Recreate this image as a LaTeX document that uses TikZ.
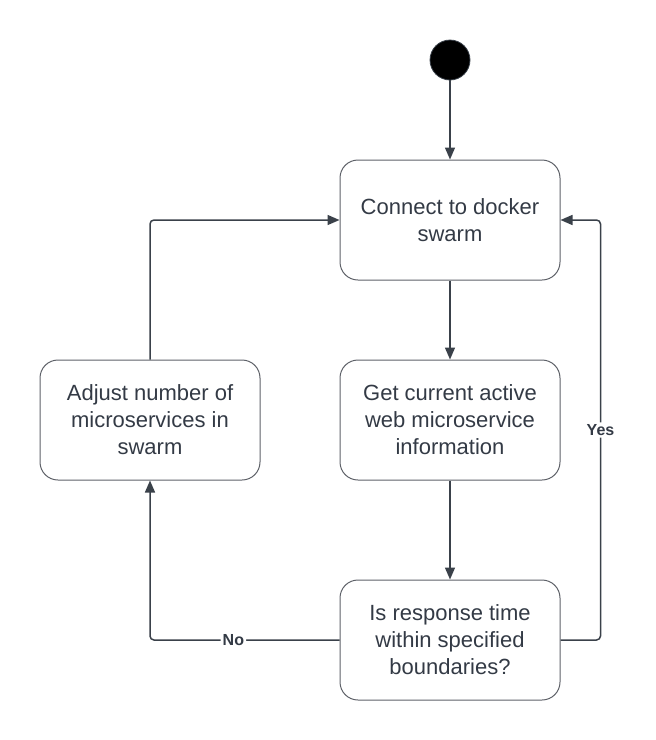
\documentclass[tikz,border=0pt]{standalone}
\usepackage{fontspec}
\setmainfont{Liberation Sans}
\usetikzlibrary{arrows.meta}
\definecolor{linegray}{HTML}{3A414A}
\definecolor{boxgray}{HTML}{5E6168}
\definecolor{textgray}{HTML}{333A45}
\tikzset{
	state/.style={draw=boxgray, line width=0.5pt, rounded corners=9pt, minimum width=110pt, minimum height=60pt, align=center, text=textgray, font=\fontsize{11}{13.5}\selectfont},
	flow/.style={draw=linegray, line width=0.75pt, -{Triangle[length=6pt, width=5pt]}},
	guard/.style={fill=white, inner sep=1pt, text=textgray, font=\fontsize{8}{9}\selectfont\bfseries}
}
\begin{document}
\begin{tikzpicture}[x=0.5pt, y=-0.5pt]
	\useasboundingbox (0,0) rectangle (656,740);
	\node[circle, fill=black, draw=linegray, minimum size=20pt, inner sep=0pt] (start) at (450, 60) {};
	\node[state] (connect) at (450, 220) {Connect to docker\\swarm};
	\node[state] (getinfo) at (450, 420) {Get current active\\web microservice\\information};
	\node[state] (check) at (450, 640) {Is response time\\within specified\\boundaries?};
	\node[state] (adjust) at (150, 420) {Adjust number of\\microservices in\\swarm};
	\draw[flow] (start) -- (connect);
	\draw[flow] (connect) -- (getinfo);
	\draw[flow] (getinfo) -- (check);
	\draw[flow, rounded corners=2pt] (check.east) -- ++(40, 0) |- node[guard, pos=0.25] {Yes} (connect.east);
	\draw[flow, rounded corners=2pt] (check.west) -| node[guard, pos=0.28] {No} (adjust.south);
	\draw[flow, rounded corners=2pt] (adjust.north) |- (connect.west);
\end{tikzpicture}
\end{document}
